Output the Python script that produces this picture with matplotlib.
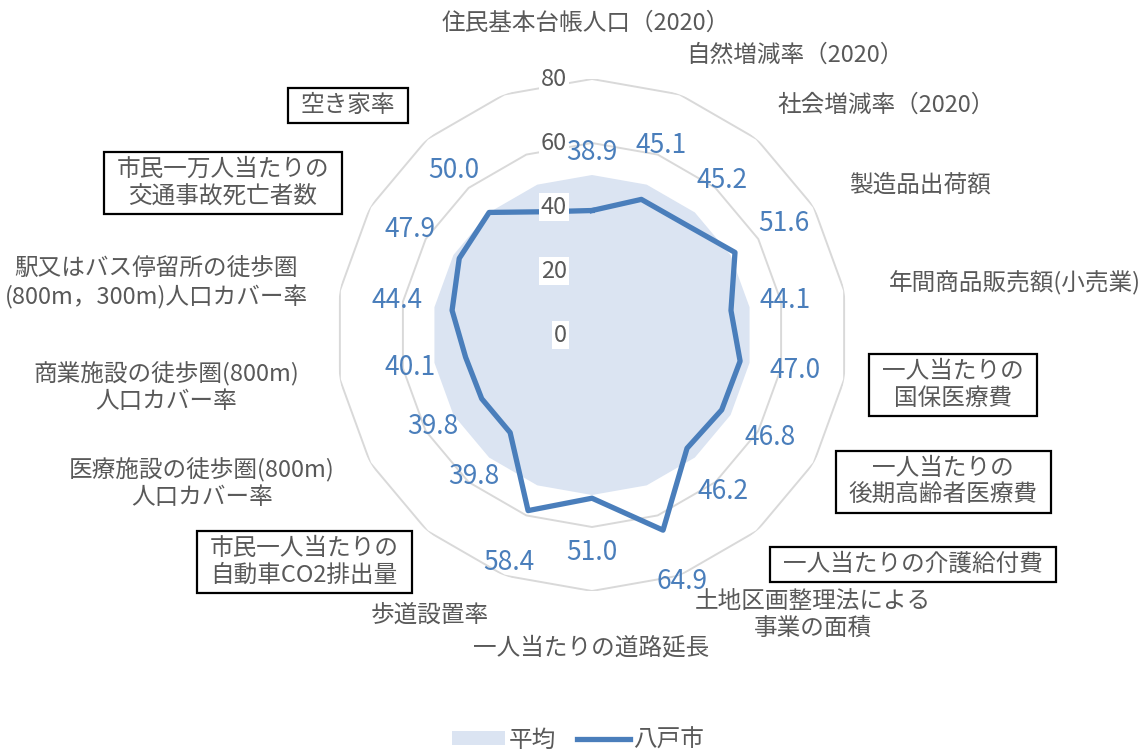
import matplotlib.pyplot as plt
import numpy as np
from matplotlib.patches import Rectangle, Patch
from matplotlib.lines import Line2D

plt.rcParams['font.family'] = ['Noto Sans CJK JP', 'DejaVu Sans']

# 18 axes, the last one has no category text and no value label
categories = ['住民基本台帳人口（2020）', '自然増減率（2020）', '社会増減率（2020）',
              '製造品出荷額', '年間商品販売額(小売業)', '一人当たりの\n国保医療費',
              '一人当たりの\n後期高齢者医療費', '一人当たりの介護給付費',
              '土地区画整理法による\n事業の面積', '一人当たりの道路延長', '歩道設置率',
              '市民一人当たりの\n自動車CO2排出量', '医療施設の徒歩圏(800m)\n人口カバー率',
              '商業施設の徒歩圏(800m)\n人口カバー率',
              '駅又はバス停留所の徒歩圏\n(800m，300m)人口カバー率',
              '市民一万人当たりの\n交通事故死亡者数', '空き家率', '']
hachinohe = [38.9, 45.1, 45.2, 51.6, 44.1, 47.0, 46.8, 46.2, 64.9, 51.0,
             58.4, 39.8, 39.8, 40.1, 44.4, 47.9, 50.0, 41.0]
average = [50.0] * 18
r_ticks = [0, 20, 40, 60, 80]

# where the category texts sit (pixel centres) and which get a frame
cat_pos = [(586, 23), (795, 55), (886, 105), (920, 185), (1015, 283),
           (953, 385), (943, 482), (913, 564), (813, 615), (591, 648),
           (430, 615), (304, 562), (202, 483), (166, 387), (156, 283),
           (223, 183), (348, 105)]
boxed = [5, 6, 7, 11, 15, 16]
# radius of each value label
lab_r = [56.9, 63.1, 63.2, 69.4, 61.3, 64.4, 64.3, 63.7, 82.0, 68.1,
         75.7, 57.7, 57.4, 57.7, 61.9, 65.7, 67.2]

W, H = 1147, 751
line_c = '#4a7ebb'
fill_c = '#dbe4f2'
grid_c = '#d9d9d9'
text_c = '#595959'

fig = plt.figure(figsize=(W / 100, H / 100), dpi=100)
cx, cy, rad = 592, 335, 256
ax = fig.add_axes([(cx - rad) / W, 1 - (cy + rad) / H, 2 * rad / W, 2 * rad / H],
                  projection='polar')
ax.set_theta_zero_location('N')
ax.set_theta_direction(-1)
ax.set_ylim(0, 80)
ax.grid(False)
ax.spines['polar'].set_visible(False)
ax.set_xticks([])
ax.set_yticks([])
ax.patch.set_alpha(0)

n = len(hachinohe)
theta = np.linspace(0, 2 * np.pi, n, endpoint=False)
th_c = np.append(theta, theta[0])

# polygonal grid rings
for r in r_ticks[1:]:
    ax.plot(th_c, [r] * (n + 1), color=grid_c, lw=1.4, zorder=1)

ax.fill(th_c, average + average[:1], color=fill_c, lw=0, zorder=2)
ax.plot(th_c, hachinohe + hachinohe[:1], color=line_c, lw=3.8,
        solid_joinstyle='round', zorder=3)

for r in r_ticks:
    ax.annotate(str(r), xy=(0, r), xytext=(-25, 0), textcoords='offset pixels',
                ha='right', va='center', fontsize=17, color=text_c, zorder=5,
                bbox=dict(boxstyle='square,pad=0.1', fc='white', ec='none'))

for i in range(len(lab_r)):
    ax.text(theta[i], lab_r[i], f'{hachinohe[i]:.1f}', ha='center', va='center',
            fontsize=19, color=line_c, zorder=6)

texts = []
for i, (x, y) in enumerate(cat_pos):
    t = fig.text(x / W, 1 - y / H, categories[i], ha='center', va='center',
                 fontsize=17, color=text_c, linespacing=1.25, zorder=7)
    texts.append(t)

# frames around the highlighted categories
fig.canvas.draw()
rend = fig.canvas.get_renderer()
for i in boxed:
    bb = texts[i].get_window_extent(rend)
    px, py = 13, 6
    fig.patches.append(Rectangle(((bb.x0 - px) / W, (bb.y0 - py) / H),
                                 (bb.width + 2 * px) / W, (bb.height + 2 * py) / H,
                                 transform=fig.transFigure, fc='white', ec='black',
                                 lw=1.6, zorder=6))

handles = [Patch(fc=fill_c, ec='none'), Line2D([], [], color=line_c, lw=3.8)]
fig.legend(handles, ['平均', '八戸市'], loc='center',
           bbox_to_anchor=(578 / W, 1 - 740 / H), ncol=2, frameon=False,
           fontsize=17, handlelength=2.25, handleheight=0.55, handletextpad=0.15,
           columnspacing=0.9, labelcolor=text_c)

fig.savefig('out.png', dpi=100)
